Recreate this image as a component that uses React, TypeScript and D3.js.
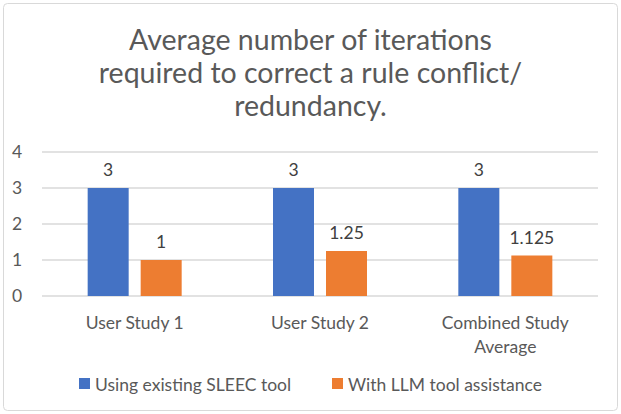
import React from "react";
import * as d3 from "d3";

const categories: string[][] = [["User Study 1"], ["User Study 2"], ["Combined Study", "Average"]];
const seriesNames = ["Using existing SLEEC tool", "With LLM tool assistance"];
const existingTool = [3, 3, 3];
const llmTool = [1, 1.25, 1.125];
const yTicks = [0, 1, 2, 3, 4];
const titleLines = ["Average number of iterations", "required to correct a rule conflict/", "redundancy."];
const colors = ["#4472C4", "#ED7D31"];

const W = 621, H = 414;
const FONT = "Lato, 'Open Sans', sans-serif";
const TXT = "#595959";

export default function App() {
  const x0 = d3.scaleBand<number>().domain([0, 1, 2]).range([42, 598]);
  const y = d3.scaleLinear().domain([0, 4]).range([296, 152]);
  const barW = 41, gap = 12;
  const series = [existingTool, llmTool];
  return (
    <div style={{ position: "absolute", left: 0, top: 0 }}>
      <svg width={W} height={H} style={{ display: "block" }}>
        <rect x={0} y={0} width={W} height={H} fill="#fff" />
        <rect x={3.5} y={3.5} width={W - 7} height={H - 7} rx={4} fill="#fff" stroke="#D9D9D9" />
        {titleLines.map((t, i) => (
          <text key={i} x={W / 2} y={50 + i * 33} textAnchor="middle" fontFamily={FONT} fontSize={28.5} fill={TXT}>{t}</text>
        ))}
        {yTicks.map((t) => (
          <g key={t}>
            <line x1={42} x2={598} y1={y(t)} y2={y(t)} stroke="#D9D9D9" strokeWidth={1.3} />
            <text x={17} y={y(t) + 6} textAnchor="middle" fontFamily={FONT} fontSize={17.5} fill={TXT}>{t}</text>
          </g>
        ))}
        {categories.map((c, ci) => {
          const cx = (x0(ci) as number) + x0.bandwidth() / 2;
          return (
            <g key={ci}>
              {series.map((s, si) => {
                const bx = cx - gap / 2 - barW + si * (barW + gap);
                return (
                  <g key={si}>
                    <rect x={bx} y={y(s[ci])} width={barW} height={y(0) - y(s[ci])} fill={colors[si]} />
                    <text x={bx + barW / 2} y={y(s[ci]) - 12} textAnchor="middle" fontFamily={FONT} fontSize={17.5} fill="#404040">{s[ci]}</text>
                  </g>
                );
              })}
              {c.map((line, li) => (
                <text key={li} x={cx} y={329 + li * 24} textAnchor="middle" fontFamily={FONT} fontSize={17.5} fill={TXT}>{line}</text>
              ))}
            </g>
          );
        })}
        {seriesNames.map((n, i) => {
          const lx = i === 0 ? 79 : 332;
          return (
            <g key={i}>
              <rect x={lx} y={378} width={11} height={11} fill={colors[i]} />
              <text x={lx + 16} y={391} fontFamily={FONT} fontSize={17.5} fill={TXT}>{n}</text>
            </g>
          );
        })}
      </svg>
    </div>
  );
}
